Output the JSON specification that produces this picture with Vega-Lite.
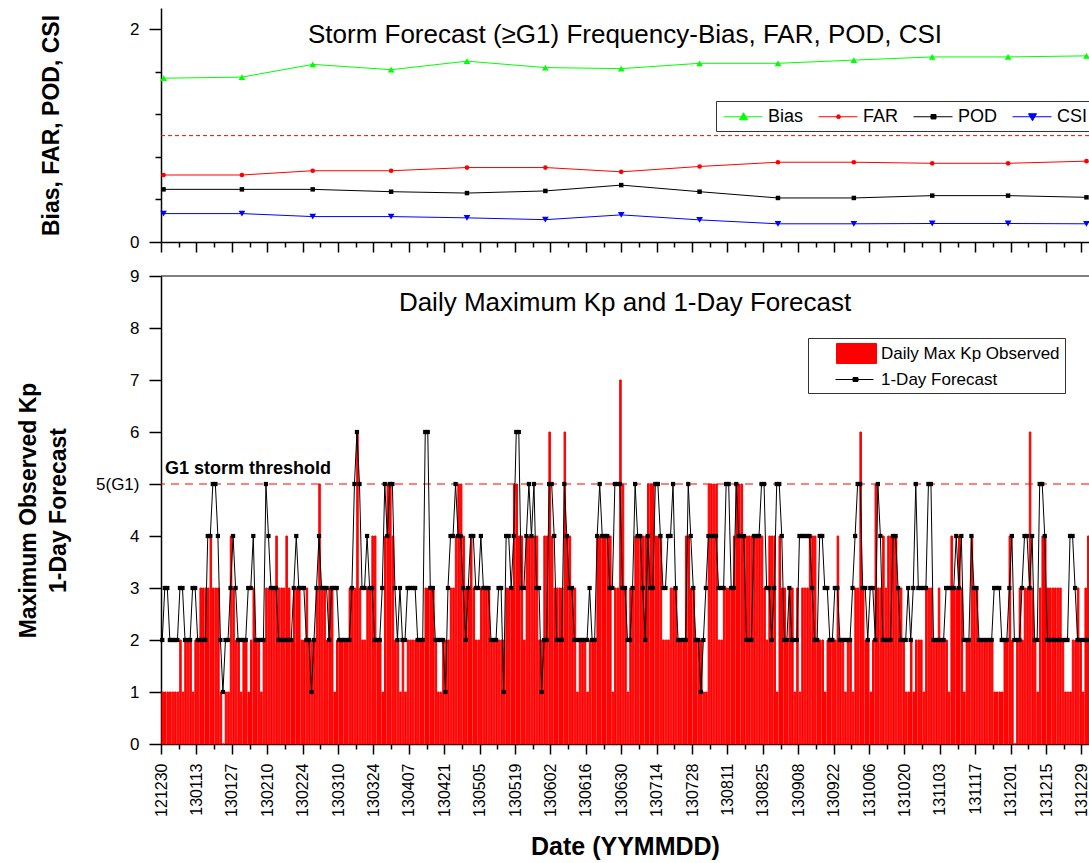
{
  "$schema": "https://vega.github.io/schema/vega-lite/v6.json",
  "background": "white",
  "padding": {"left": 17, "top": 8, "right": 0, "bottom": 0},
  "spacing": 14,
  "config": {
    "font": "Liberation Sans",
    "view": {"stroke": null},
    "axis": {"domainColor": "#000", "domainWidth": 1.5, "tickColor": "#000", "tickWidth": 1.5, "labelColor": "#000", "titleColor": "#000", "labelFont": "Liberation Sans", "titleFont": "Liberation Sans", "grid": false, "labelFontSize": 17, "titleFontWeight": "bold"},
    "legend": {"labelFont": "Liberation Sans", "labelColor": "#000", "labelFontSize": 17, "labelLimit": 400}
  },
  "resolve": {"scale": {"color": "independent", "shape": "independent", "size": "independent", "fill": "independent", "stroke": "independent"}},
  "datasets": {
    "metrics": [
      {"date": "2012-12-31", "metric": "Bias", "value": 1.54},
      {"date": "2013-01-31", "metric": "Bias", "value": 1.55},
      {"date": "2013-02-28", "metric": "Bias", "value": 1.67},
      {"date": "2013-03-31", "metric": "Bias", "value": 1.62},
      {"date": "2013-04-30", "metric": "Bias", "value": 1.70},
      {"date": "2013-05-31", "metric": "Bias", "value": 1.64},
      {"date": "2013-06-30", "metric": "Bias", "value": 1.63},
      {"date": "2013-07-31", "metric": "Bias", "value": 1.68},
      {"date": "2013-08-31", "metric": "Bias", "value": 1.68},
      {"date": "2013-09-30", "metric": "Bias", "value": 1.71},
      {"date": "2013-10-31", "metric": "Bias", "value": 1.74},
      {"date": "2013-11-30", "metric": "Bias", "value": 1.74},
      {"date": "2013-12-31", "metric": "Bias", "value": 1.75},
      {"date": "2012-12-31", "metric": "FAR", "value": 0.63},
      {"date": "2013-01-31", "metric": "FAR", "value": 0.63},
      {"date": "2013-02-28", "metric": "FAR", "value": 0.67},
      {"date": "2013-03-31", "metric": "FAR", "value": 0.67},
      {"date": "2013-04-30", "metric": "FAR", "value": 0.70},
      {"date": "2013-05-31", "metric": "FAR", "value": 0.70},
      {"date": "2013-06-30", "metric": "FAR", "value": 0.66},
      {"date": "2013-07-31", "metric": "FAR", "value": 0.71},
      {"date": "2013-08-31", "metric": "FAR", "value": 0.75},
      {"date": "2013-09-30", "metric": "FAR", "value": 0.75},
      {"date": "2013-10-31", "metric": "FAR", "value": 0.74},
      {"date": "2013-11-30", "metric": "FAR", "value": 0.74},
      {"date": "2013-12-31", "metric": "FAR", "value": 0.76},
      {"date": "2012-12-31", "metric": "POD", "value": 0.495},
      {"date": "2013-01-31", "metric": "POD", "value": 0.495},
      {"date": "2013-02-28", "metric": "POD", "value": 0.495},
      {"date": "2013-03-31", "metric": "POD", "value": 0.473},
      {"date": "2013-04-30", "metric": "POD", "value": 0.46},
      {"date": "2013-05-31", "metric": "POD", "value": 0.48},
      {"date": "2013-06-30", "metric": "POD", "value": 0.535},
      {"date": "2013-07-31", "metric": "POD", "value": 0.473},
      {"date": "2013-08-31", "metric": "POD", "value": 0.414},
      {"date": "2013-09-30", "metric": "POD", "value": 0.414},
      {"date": "2013-10-31", "metric": "POD", "value": 0.436},
      {"date": "2013-11-30", "metric": "POD", "value": 0.436},
      {"date": "2013-12-31", "metric": "POD", "value": 0.42},
      {"date": "2012-12-31", "metric": "CSI", "value": 0.267},
      {"date": "2013-01-31", "metric": "CSI", "value": 0.267},
      {"date": "2013-02-28", "metric": "CSI", "value": 0.239},
      {"date": "2013-03-31", "metric": "CSI", "value": 0.239},
      {"date": "2013-04-30", "metric": "CSI", "value": 0.227},
      {"date": "2013-05-31", "metric": "CSI", "value": 0.21},
      {"date": "2013-06-30", "metric": "CSI", "value": 0.255},
      {"date": "2013-07-31", "metric": "CSI", "value": 0.208},
      {"date": "2013-08-31", "metric": "CSI", "value": 0.171},
      {"date": "2013-09-30", "metric": "CSI", "value": 0.171},
      {"date": "2013-10-31", "metric": "CSI", "value": 0.174},
      {"date": "2013-11-30", "metric": "CSI", "value": 0.174},
      {"date": "2013-12-31", "metric": "CSI", "value": 0.171}
    ],
    "kp": [
      {"date":"2012-12-30","obs":1,"fc":2},{"date":"2012-12-31","obs":1,"fc":3},
      {"date":"2013-01-01","obs":1,"fc":3},{"date":"2013-01-02","obs":1,"fc":2},{"date":"2013-01-03","obs":1,"fc":2},{"date":"2013-01-04","obs":1,"fc":2},{"date":"2013-01-05","obs":1,"fc":2},{"date":"2013-01-06","obs":2,"fc":3},{"date":"2013-01-07","obs":1,"fc":3},{"date":"2013-01-08","obs":2,"fc":2},{"date":"2013-01-09","obs":2,"fc":2},{"date":"2013-01-10","obs":2,"fc":2},
      {"date":"2013-01-11","obs":1,"fc":3},{"date":"2013-01-12","obs":2,"fc":3},{"date":"2013-01-13","obs":2,"fc":2},{"date":"2013-01-14","obs":3,"fc":2},{"date":"2013-01-15","obs":3,"fc":2},{"date":"2013-01-16","obs":3,"fc":2},{"date":"2013-01-17","obs":3,"fc":4},{"date":"2013-01-18","obs":4,"fc":4},{"date":"2013-01-19","obs":3,"fc":5},{"date":"2013-01-20","obs":3,"fc":5},
      {"date":"2013-01-21","obs":3,"fc":4},{"date":"2013-01-22","obs":1,"fc":2},{"date":"2013-01-23","obs":0,"fc":1},{"date":"2013-01-24","obs":1,"fc":2},{"date":"2013-01-25","obs":1,"fc":2},{"date":"2013-01-26","obs":4,"fc":3},{"date":"2013-01-27","obs":3,"fc":4},{"date":"2013-01-28","obs":2,"fc":3},{"date":"2013-01-29","obs":2,"fc":2},{"date":"2013-01-30","obs":1,"fc":2},{"date":"2013-01-31","obs":2,"fc":2},
      {"date":"2013-02-01","obs":2,"fc":2},{"date":"2013-02-02","obs":1,"fc":3},{"date":"2013-02-03","obs":2,"fc":3},{"date":"2013-02-04","obs":3,"fc":4},{"date":"2013-02-05","obs":2,"fc":2},{"date":"2013-02-06","obs":2,"fc":2},{"date":"2013-02-07","obs":1,"fc":2},{"date":"2013-02-08","obs":2,"fc":2},{"date":"2013-02-09","obs":3,"fc":5},{"date":"2013-02-10","obs":3,"fc":4},
      {"date":"2013-02-11","obs":3,"fc":3},{"date":"2013-02-12","obs":3,"fc":3},{"date":"2013-02-13","obs":4,"fc":3},{"date":"2013-02-14","obs":3,"fc":2},{"date":"2013-02-15","obs":3,"fc":2},{"date":"2013-02-16","obs":3,"fc":2},{"date":"2013-02-17","obs":4,"fc":2},{"date":"2013-02-18","obs":3,"fc":2},{"date":"2013-02-19","obs":2,"fc":2},{"date":"2013-02-20","obs":3,"fc":3},
      {"date":"2013-02-21","obs":3,"fc":4},{"date":"2013-02-22","obs":3,"fc":3},{"date":"2013-02-23","obs":2,"fc":3},{"date":"2013-02-24","obs":2,"fc":3},{"date":"2013-02-25","obs":3,"fc":2},{"date":"2013-02-26","obs":2,"fc":2},{"date":"2013-02-27","obs":2,"fc":1},{"date":"2013-02-28","obs":2,"fc":2},
      {"date":"2013-03-01","obs":3,"fc":3},{"date":"2013-03-02","obs":5,"fc":4},{"date":"2013-03-03","obs":3,"fc":3},{"date":"2013-03-04","obs":3,"fc":3},{"date":"2013-03-05","obs":2,"fc":3},{"date":"2013-03-06","obs":3,"fc":2},{"date":"2013-03-07","obs":3,"fc":3},{"date":"2013-03-08","obs":1,"fc":3},{"date":"2013-03-09","obs":2,"fc":3},{"date":"2013-03-10","obs":2,"fc":2},
      {"date":"2013-03-11","obs":2,"fc":2},{"date":"2013-03-12","obs":2,"fc":2},{"date":"2013-03-13","obs":2,"fc":2},{"date":"2013-03-14","obs":3,"fc":2},{"date":"2013-03-15","obs":3,"fc":3},{"date":"2013-03-16","obs":3,"fc":5},{"date":"2013-03-17","obs":6,"fc":6},{"date":"2013-03-18","obs":3,"fc":5},{"date":"2013-03-19","obs":2,"fc":3},{"date":"2013-03-20","obs":2,"fc":3},
      {"date":"2013-03-21","obs":3,"fc":4},{"date":"2013-03-22","obs":3,"fc":3},{"date":"2013-03-23","obs":4,"fc":3},{"date":"2013-03-24","obs":4,"fc":2},{"date":"2013-03-25","obs":2,"fc":2},{"date":"2013-03-26","obs":2,"fc":2},{"date":"2013-03-27","obs":1,"fc":3},{"date":"2013-03-28","obs":4,"fc":5},{"date":"2013-03-29","obs":5,"fc":4},{"date":"2013-03-30","obs":5,"fc":5},{"date":"2013-03-31","obs":4,"fc":5},
      {"date":"2013-04-01","obs":2,"fc":3},{"date":"2013-04-02","obs":2,"fc":2},{"date":"2013-04-03","obs":1,"fc":3},{"date":"2013-04-04","obs":2,"fc":2},{"date":"2013-04-05","obs":1,"fc":2},{"date":"2013-04-06","obs":2,"fc":3},{"date":"2013-04-07","obs":2,"fc":3},{"date":"2013-04-08","obs":2,"fc":3},{"date":"2013-04-09","obs":2,"fc":3},{"date":"2013-04-10","obs":2,"fc":2},
      {"date":"2013-04-11","obs":2,"fc":2},{"date":"2013-04-12","obs":2,"fc":2},{"date":"2013-04-13","obs":3,"fc":6},{"date":"2013-04-14","obs":3,"fc":6},{"date":"2013-04-15","obs":3,"fc":3},{"date":"2013-04-16","obs":3,"fc":3},{"date":"2013-04-17","obs":2,"fc":2},{"date":"2013-04-18","obs":1,"fc":2},{"date":"2013-04-19","obs":1,"fc":2},{"date":"2013-04-20","obs":2,"fc":2},
      {"date":"2013-04-21","obs":2,"fc":1},{"date":"2013-04-22","obs":2,"fc":3},{"date":"2013-04-23","obs":3,"fc":4},{"date":"2013-04-24","obs":3,"fc":4},{"date":"2013-04-25","obs":4,"fc":5},{"date":"2013-04-26","obs":5,"fc":4},{"date":"2013-04-27","obs":5,"fc":4},{"date":"2013-04-28","obs":4,"fc":3},{"date":"2013-04-29","obs":3,"fc":2},{"date":"2013-04-30","obs":3,"fc":3},
      {"date":"2013-05-01","obs":4,"fc":4},{"date":"2013-05-02","obs":3,"fc":4},{"date":"2013-05-03","obs":2,"fc":3},{"date":"2013-05-04","obs":2,"fc":3},{"date":"2013-05-05","obs":3,"fc":4},{"date":"2013-05-06","obs":3,"fc":3},{"date":"2013-05-07","obs":3,"fc":3},{"date":"2013-05-08","obs":3,"fc":3},{"date":"2013-05-09","obs":2,"fc":2},{"date":"2013-05-10","obs":2,"fc":2},
      {"date":"2013-05-11","obs":2,"fc":2},{"date":"2013-05-12","obs":2,"fc":3},{"date":"2013-05-13","obs":2,"fc":3},{"date":"2013-05-14","obs":2,"fc":1},{"date":"2013-05-15","obs":3,"fc":4},{"date":"2013-05-16","obs":3,"fc":4},{"date":"2013-05-17","obs":3,"fc":3},{"date":"2013-05-18","obs":5,"fc":4},{"date":"2013-05-19","obs":5,"fc":6},{"date":"2013-05-20","obs":4,"fc":6},
      {"date":"2013-05-21","obs":4,"fc":3},{"date":"2013-05-22","obs":2,"fc":3},{"date":"2013-05-23","obs":4,"fc":4},{"date":"2013-05-24","obs":4,"fc":5},{"date":"2013-05-25","obs":4,"fc":4},{"date":"2013-05-26","obs":4,"fc":5},{"date":"2013-05-27","obs":4,"fc":3},{"date":"2013-05-28","obs":2,"fc":3},{"date":"2013-05-29","obs":2,"fc":1},{"date":"2013-05-30","obs":4,"fc":2},{"date":"2013-05-31","obs":4,"fc":2},
      {"date":"2013-06-01","obs":6,"fc":5},{"date":"2013-06-02","obs":4,"fc":5},{"date":"2013-06-03","obs":3,"fc":4},{"date":"2013-06-04","obs":3,"fc":2},{"date":"2013-06-05","obs":3,"fc":2},{"date":"2013-06-06","obs":3,"fc":2},{"date":"2013-06-07","obs":6,"fc":5},{"date":"2013-06-08","obs":4,"fc":4},{"date":"2013-06-09","obs":4,"fc":3},{"date":"2013-06-10","obs":3,"fc":3},
      {"date":"2013-06-11","obs":3,"fc":2},{"date":"2013-06-12","obs":1,"fc":2},{"date":"2013-06-13","obs":2,"fc":2},{"date":"2013-06-14","obs":2,"fc":2},{"date":"2013-06-15","obs":2,"fc":2},{"date":"2013-06-16","obs":1,"fc":2},{"date":"2013-06-17","obs":2,"fc":3},{"date":"2013-06-18","obs":2,"fc":2},{"date":"2013-06-19","obs":2,"fc":2},{"date":"2013-06-20","obs":4,"fc":4},
      {"date":"2013-06-21","obs":4,"fc":5},{"date":"2013-06-22","obs":4,"fc":4},{"date":"2013-06-23","obs":4,"fc":4},{"date":"2013-06-24","obs":4,"fc":4},{"date":"2013-06-25","obs":4,"fc":3},{"date":"2013-06-26","obs":1,"fc":3},{"date":"2013-06-27","obs":3,"fc":5},{"date":"2013-06-28","obs":3,"fc":5},{"date":"2013-06-29","obs":7,"fc":5},{"date":"2013-06-30","obs":5,"fc":3},
      {"date":"2013-07-01","obs":3,"fc":3},{"date":"2013-07-02","obs":1,"fc":2},{"date":"2013-07-03","obs":3,"fc":2},{"date":"2013-07-04","obs":3,"fc":3},{"date":"2013-07-05","obs":4,"fc":5},{"date":"2013-07-06","obs":4,"fc":4},{"date":"2013-07-07","obs":4,"fc":4},{"date":"2013-07-08","obs":4,"fc":3},{"date":"2013-07-09","obs":4,"fc":2},{"date":"2013-07-10","obs":5,"fc":4},
      {"date":"2013-07-11","obs":5,"fc":3},{"date":"2013-07-12","obs":5,"fc":3},{"date":"2013-07-13","obs":4,"fc":5},{"date":"2013-07-14","obs":4,"fc":5},{"date":"2013-07-15","obs":4,"fc":4},{"date":"2013-07-16","obs":2,"fc":3},{"date":"2013-07-17","obs":2,"fc":3},{"date":"2013-07-18","obs":2,"fc":4},{"date":"2013-07-19","obs":3,"fc":4},{"date":"2013-07-20","obs":3,"fc":5},
      {"date":"2013-07-21","obs":3,"fc":3},{"date":"2013-07-22","obs":2,"fc":2},{"date":"2013-07-23","obs":2,"fc":2},{"date":"2013-07-24","obs":2,"fc":2},{"date":"2013-07-25","obs":4,"fc":2},{"date":"2013-07-26","obs":4,"fc":5},{"date":"2013-07-27","obs":3,"fc":4},{"date":"2013-07-28","obs":3,"fc":3},{"date":"2013-07-29","obs":2,"fc":2},{"date":"2013-07-30","obs":2,"fc":2},{"date":"2013-07-31","obs":2,"fc":1},
      {"date":"2013-08-01","obs":1,"fc":2},{"date":"2013-08-02","obs":1,"fc":3},{"date":"2013-08-03","obs":5,"fc":4},{"date":"2013-08-04","obs":5,"fc":4},{"date":"2013-08-05","obs":5,"fc":4},{"date":"2013-08-06","obs":5,"fc":4},{"date":"2013-08-07","obs":2,"fc":3},{"date":"2013-08-08","obs":2,"fc":3},{"date":"2013-08-09","obs":3,"fc":3},{"date":"2013-08-10","obs":3,"fc":5},
      {"date":"2013-08-11","obs":3,"fc":5},{"date":"2013-08-12","obs":3,"fc":3},{"date":"2013-08-13","obs":4,"fc":3},{"date":"2013-08-14","obs":5,"fc":5},{"date":"2013-08-15","obs":5,"fc":4},{"date":"2013-08-16","obs":5,"fc":4},{"date":"2013-08-17","obs":4,"fc":4},{"date":"2013-08-18","obs":4,"fc":2},{"date":"2013-08-19","obs":4,"fc":2},{"date":"2013-08-20","obs":4,"fc":2},
      {"date":"2013-08-21","obs":4,"fc":4},{"date":"2013-08-22","obs":4,"fc":4},{"date":"2013-08-23","obs":4,"fc":4},{"date":"2013-08-24","obs":4,"fc":5},{"date":"2013-08-25","obs":3,"fc":5},{"date":"2013-08-26","obs":2,"fc":3},{"date":"2013-08-27","obs":4,"fc":3},{"date":"2013-08-28","obs":4,"fc":2},{"date":"2013-08-29","obs":4,"fc":3},{"date":"2013-08-30","obs":1,"fc":5},{"date":"2013-08-31","obs":4,"fc":5},
      {"date":"2013-09-01","obs":3,"fc":4},{"date":"2013-09-02","obs":3,"fc":2},{"date":"2013-09-03","obs":2,"fc":2},{"date":"2013-09-04","obs":3,"fc":3},{"date":"2013-09-05","obs":3,"fc":2},{"date":"2013-09-06","obs":1,"fc":2},{"date":"2013-09-07","obs":3,"fc":2},{"date":"2013-09-08","obs":1,"fc":4},{"date":"2013-09-09","obs":3,"fc":4},{"date":"2013-09-10","obs":3,"fc":4},
      {"date":"2013-09-11","obs":3,"fc":4},{"date":"2013-09-12","obs":4,"fc":4},{"date":"2013-09-13","obs":4,"fc":3},{"date":"2013-09-14","obs":4,"fc":2},{"date":"2013-09-15","obs":2,"fc":2},{"date":"2013-09-16","obs":2,"fc":4},{"date":"2013-09-17","obs":2,"fc":4},{"date":"2013-09-18","obs":1,"fc":3},{"date":"2013-09-19","obs":2,"fc":3},{"date":"2013-09-20","obs":2,"fc":2},
      {"date":"2013-09-21","obs":2,"fc":2},{"date":"2013-09-22","obs":2,"fc":3},{"date":"2013-09-23","obs":4,"fc":3},{"date":"2013-09-24","obs":2,"fc":2},{"date":"2013-09-25","obs":2,"fc":2},{"date":"2013-09-26","obs":1,"fc":2},{"date":"2013-09-27","obs":2,"fc":2},{"date":"2013-09-28","obs":2,"fc":2},{"date":"2013-09-29","obs":1,"fc":3},{"date":"2013-09-30","obs":3,"fc":4},
      {"date":"2013-10-01","obs":3,"fc":5},{"date":"2013-10-02","obs":6,"fc":5},{"date":"2013-10-03","obs":3,"fc":3},{"date":"2013-10-04","obs":2,"fc":3},{"date":"2013-10-05","obs":2,"fc":2},{"date":"2013-10-06","obs":1,"fc":3},{"date":"2013-10-07","obs":2,"fc":3},{"date":"2013-10-08","obs":5,"fc":2},{"date":"2013-10-09","obs":3,"fc":5},{"date":"2013-10-10","obs":3,"fc":4},
      {"date":"2013-10-11","obs":4,"fc":2},{"date":"2013-10-12","obs":3,"fc":2},{"date":"2013-10-13","obs":4,"fc":2},{"date":"2013-10-14","obs":4,"fc":2},{"date":"2013-10-15","obs":4,"fc":4},{"date":"2013-10-16","obs":4,"fc":4},{"date":"2013-10-17","obs":3,"fc":3},{"date":"2013-10-18","obs":3,"fc":2},{"date":"2013-10-19","obs":2,"fc":2},{"date":"2013-10-20","obs":1,"fc":2},
      {"date":"2013-10-21","obs":1,"fc":3},{"date":"2013-10-22","obs":2,"fc":2},{"date":"2013-10-23","obs":1,"fc":3},{"date":"2013-10-24","obs":2,"fc":5},{"date":"2013-10-25","obs":2,"fc":3},{"date":"2013-10-26","obs":2,"fc":3},{"date":"2013-10-27","obs":1,"fc":3},{"date":"2013-10-28","obs":3,"fc":3},{"date":"2013-10-29","obs":3,"fc":5},{"date":"2013-10-30","obs":3,"fc":5},{"date":"2013-10-31","obs":2,"fc":2},
      {"date":"2013-11-01","obs":2,"fc":2},{"date":"2013-11-02","obs":3,"fc":2},{"date":"2013-11-03","obs":2,"fc":2},{"date":"2013-11-04","obs":2,"fc":2},{"date":"2013-11-05","obs":2,"fc":3},{"date":"2013-11-06","obs":1,"fc":3},{"date":"2013-11-07","obs":4,"fc":3},{"date":"2013-11-08","obs":3,"fc":3},{"date":"2013-11-09","obs":3,"fc":4},{"date":"2013-11-10","obs":4,"fc":3},
      {"date":"2013-11-11","obs":3,"fc":4},{"date":"2013-11-12","obs":1,"fc":2},{"date":"2013-11-13","obs":2,"fc":2},{"date":"2013-11-14","obs":2,"fc":2},{"date":"2013-11-15","obs":4,"fc":4},{"date":"2013-11-16","obs":3,"fc":3},{"date":"2013-11-17","obs":3,"fc":3},{"date":"2013-11-18","obs":2,"fc":2},{"date":"2013-11-19","obs":2,"fc":2},{"date":"2013-11-20","obs":2,"fc":2},
      {"date":"2013-11-21","obs":2,"fc":2},{"date":"2013-11-22","obs":2,"fc":2},{"date":"2013-11-23","obs":2,"fc":2},{"date":"2013-11-24","obs":1,"fc":3},{"date":"2013-11-25","obs":1,"fc":3},{"date":"2013-11-26","obs":1,"fc":3},{"date":"2013-11-27","obs":1,"fc":2},{"date":"2013-11-28","obs":2,"fc":2},{"date":"2013-11-29","obs":2,"fc":2},{"date":"2013-11-30","obs":4,"fc":3},
      {"date":"2013-12-01","obs":2,"fc":4},{"date":"2013-12-02","obs":0,"fc":2},{"date":"2013-12-03","obs":2,"fc":2},{"date":"2013-12-04","obs":3,"fc":2},{"date":"2013-12-05","obs":2,"fc":3},{"date":"2013-12-06","obs":3,"fc":4},{"date":"2013-12-07","obs":3,"fc":4},{"date":"2013-12-08","obs":6,"fc":3},{"date":"2013-12-09","obs":3,"fc":4},{"date":"2013-12-10","obs":2,"fc":2},
      {"date":"2013-12-11","obs":1,"fc":2},{"date":"2013-12-12","obs":3,"fc":5},{"date":"2013-12-13","obs":4,"fc":5},{"date":"2013-12-14","obs":4,"fc":4},{"date":"2013-12-15","obs":3,"fc":2},{"date":"2013-12-16","obs":3,"fc":2},{"date":"2013-12-17","obs":3,"fc":2},{"date":"2013-12-18","obs":3,"fc":2},{"date":"2013-12-19","obs":3,"fc":2},{"date":"2013-12-20","obs":3,"fc":2},
      {"date":"2013-12-21","obs":2,"fc":2},{"date":"2013-12-22","obs":1,"fc":2},{"date":"2013-12-23","obs":1,"fc":2},{"date":"2013-12-24","obs":1,"fc":4},{"date":"2013-12-25","obs":2,"fc":4},{"date":"2013-12-26","obs":2,"fc":3},{"date":"2013-12-27","obs":3,"fc":2},{"date":"2013-12-28","obs":2,"fc":2},{"date":"2013-12-29","obs":1,"fc":2},{"date":"2013-12-30","obs":3,"fc":2},{"date":"2013-12-31","obs":4,"fc":2}
    ]
  },
  "vconcat": [
    {
      "width": 928,
      "height": 234,
      "data": {"name": "metrics"},
      "layer": [
        {
          "data": {"values": [{"value": 1}]},
          "mark": {"type": "rule", "color": "#FF0000", "strokeDash": [4, 3], "strokeWidth": 1},
          "encoding": {"y": {"field": "value", "type": "quantitative"}}
        },
        {
          "mark": {"type": "line", "strokeWidth": 1},
          "encoding": {
            "x": {"field": "date", "type": "temporal",
              "scale": {"type": "utc", "domain": [{"year": 2012, "month": 12, "date": 30, "utc": true}, {"year": 2014, "month": 1, "date": 1, "utc": true}]},
              "axis": {"title": null, "labels": false, "tickCount": {"interval": "week", "step": 1},
                "tickSize": {"condition": {"test": "round(datum.value/864e5 - 15704) % 14 == 0", "value": 10}, "value": 5}}},
            "y": {"field": "value", "type": "quantitative",
              "scale": {"domain": [0, 2.2], "nice": false, "zero": true},
              "axis": {"title": "Bias, FAR, POD, CSI", "titleFontSize": 23, "titlePadding": 66,
                "values": [0,0.1,0.2,0.3,0.4,0.5,0.6,0.7,0.8,0.9,1,1.1,1.2,1.3,1.4,1.5,1.6,1.7,1.8,1.9,2,2.1,2.2],
                "labelExpr": "datum.value % 1 == 0 ? format(datum.value, 'd') : ''",
                "tickSize": {"condition": {"test": "datum.value % 1 == 0", "value": 12}, "value": 6},
                "labelPadding": 10}},
            "stroke": {"field": "metric", "type": "nominal"}
          }
        },
        {
          "transform": [{"filter": "datum.metric == 'Bias'"}],
          "mark": {"type": "point", "filled": true, "opacity": 1, "shape": "triangle-up", "color": "#00FF00", "size": 45},
          "encoding": {"x": {"field": "date", "type": "temporal"}, "y": {"field": "value", "type": "quantitative"}}
        },
        {
          "transform": [{"filter": "datum.metric == 'FAR'"}],
          "mark": {"type": "point", "filled": true, "opacity": 1, "shape": "circle", "color": "#FF0000", "size": 22},
          "encoding": {"x": {"field": "date", "type": "temporal"}, "y": {"field": "value", "type": "quantitative"}}
        },
        {
          "transform": [{"filter": "datum.metric == 'POD'"}],
          "mark": {"type": "point", "filled": true, "opacity": 1, "shape": "square", "color": "#000000", "size": 20},
          "encoding": {"x": {"field": "date", "type": "temporal"}, "y": {"field": "value", "type": "quantitative"}}
        },
        {
          "transform": [{"filter": "datum.metric == 'CSI'"}],
          "mark": {"type": "point", "filled": true, "opacity": 1, "shape": "triangle-down", "color": "#0000FF", "size": 45},
          "encoding": {"x": {"field": "date", "type": "temporal"}, "y": {"field": "value", "type": "quantitative"}}
        },
        {
          "mark": {"type": "point", "filled": true, "opacity": 0},
          "encoding": {
            "x": {"field": "date", "type": "temporal"},
            "y": {"field": "value", "type": "quantitative"},
            "fill": {"field": "metric", "type": "nominal",
              "scale": {"domain": ["Bias", "FAR", "POD", "CSI"], "range": ["#00FF00", "#FF0000", "#000000", "#0000FF"]},
              "legend": {"title": null, "orient": "none", "legendX": 555, "legendY": 93, "direction": "horizontal", "columns": 4, "columnPadding": 12, "padding": 5, "strokeColor": "#333", "symbolSize": 400, "symbolOpacity": 1, "symbolStrokeWidth": 1, "labelOffset": 26, "labelFontSize": 18}},
            "stroke": {"field": "metric", "type": "nominal",
              "scale": {"domain": ["Bias", "FAR", "POD", "CSI"], "range": ["#00FF00", "#FF0000", "#000000", "#0000FF"]},
              "legend": {"title": null, "orient": "none", "legendX": 555, "legendY": 93, "direction": "horizontal", "columns": 4, "columnPadding": 12, "padding": 5, "strokeColor": "#333", "symbolSize": 400, "symbolOpacity": 1, "symbolStrokeWidth": 1, "labelOffset": 26, "labelFontSize": 18}},
            "shape": {"field": "metric", "type": "nominal",
              "scale": {"domain": ["Bias", "FAR", "POD", "CSI"], "range": [
                "M-0.8,0H3.1M1.2,-0.4L1.6,0.3H0.8Z",
                "M-0.8,0H3.1M1.4,0A0.2,0.2,0,1,1,1.0,0A0.2,0.2,0,1,1,1.4,0Z",
                "M-0.8,0H3.1M0.95,-0.22H1.45V0.22H0.95Z",
                "M-0.8,0H3.1M1.2,0.4L1.6,-0.3H0.8Z"]},
              "legend": {"title": null, "orient": "none", "legendX": 555, "legendY": 93, "direction": "horizontal", "columns": 4, "columnPadding": 12, "padding": 5, "strokeColor": "#333", "symbolSize": 400, "symbolOpacity": 1, "symbolStrokeWidth": 1, "labelOffset": 26, "labelFontSize": 18}}
          }
        },
        {
          "data": {"values": [{"date": "2013-07-01T12:00:00Z", "value": 1.87, "label": "Storm Forecast (≥G1) Frequency-Bias, FAR, POD, CSI"}]},
          "mark": {"type": "text", "align": "center", "baseline": "alphabetic", "fontSize": 26, "font": "Liberation Sans", "color": "#000"},
          "encoding": {"x": {"field": "date", "type": "temporal"}, "y": {"field": "value", "type": "quantitative"}, "text": {"field": "label"}}
        }
      ]
    },
    {
      "width": 928,
      "height": 468,
      "data": {"name": "kp"},
      "layer": [
        {
          "mark": {"type": "bar", "color": "#FF0000", "stroke": "#FF0000", "strokeWidth": 1},
          "encoding": {
            "x": {"field": "date", "type": "temporal", "timeUnit": "utcyearmonthdate",
              "scale": {"type": "utc", "domain": [{"year": 2012, "month": 12, "date": 30, "utc": true}, {"year": 2014, "month": 1, "date": 1, "utc": true}]},
              "axis": {"title": "Date (YYMMDD)", "titleFontSize": 25, "titlePadding": 18, "labelAngle": -90, "labelFontSize": 16, "labelPadding": 9,
                "tickCount": {"interval": "week", "step": 1},
                "labelExpr": "round(datum.value/864e5 - 15704) % 14 == 0 ? utcFormat(datum.value, '%y%m%d') : ''",
                "tickSize": {"condition": {"test": "round(datum.value/864e5 - 15704) % 14 == 0", "value": 10}, "value": 5},
                "labelOverlap": false, "labelFlush": false, "labelBound": false}},
            "y": {"field": "obs", "type": "quantitative",
              "scale": {"domain": [0, 9], "nice": false},
              "axis": {"title": ["Maximum Observed Kp", "1-Day Forecast"], "titleFontSize": 23, "titleLineHeight": 30, "titlePadding": 25,
                "values": [0,1,2,3,4,5,6,7,8,9],
                "labelExpr": "datum.value == 5 ? '5(G1)' : datum.label",
                "tickSize": 12, "labelPadding": 10}}
          }
        },
        {
          "data": {"values": [{"obs": 5}, {"obs": 9}]},
          "mark": {"type": "rule", "color": "#FF0000", "strokeDash": [8, 6], "strokeWidth": 1},
          "encoding": {"y": {"field": "obs", "type": "quantitative"},
            "strokeDash": {"condition": {"test": "datum.obs == 9", "value": [1, 0]}, "value": [8, 6]},
            "stroke": {"condition": {"test": "datum.obs == 9", "value": "#000000"}, "value": "#FF0000"},
            "strokeWidth": {"condition": {"test": "datum.obs == 9", "value": 1.5}, "value": 1}}
        },
        {
          "mark": {"type": "line", "color": "#000000", "strokeWidth": 1, "point": {"filled": true, "shape": "square", "size": 18, "color": "#000000"}},
          "encoding": {
            "x": {"field": "date", "type": "temporal", "timeUnit": "utcyearmonthdate", "bandPosition": 0.5},
            "y": {"field": "fc", "type": "quantitative"}
          }
        },
        {
          "transform": [{"fold": ["obs", "fc"], "as": ["series", "kpv"]}],
          "mark": {"type": "point", "filled": true, "opacity": 0},
          "encoding": {
            "x": {"field": "date", "type": "temporal"},
            "y": {"field": "kpv", "type": "quantitative"},
            "fill": {"field": "series", "type": "nominal",
              "scale": {"domain": ["obs", "fc"], "range": ["#FF0000", "#000000"]},
              "legend": {"title": null, "orient": "none", "legendX": 647, "legendY": 62, "direction": "vertical", "rowPadding": 3, "padding": 5, "strokeColor": "#333", "symbolSize": 400, "symbolOpacity": 1, "symbolStrokeWidth": 1, "labelOffset": 47, "labelFontSize": 17, "labelExpr": "datum.value == 'obs' ? 'Daily Max Kp Observed' : '1-Day Forecast'"}},
            "stroke": {"field": "series", "type": "nominal",
              "scale": {"domain": ["obs", "fc"], "range": ["#FF0000", "#000000"]},
              "legend": {"title": null, "orient": "none", "legendX": 647, "legendY": 62, "direction": "vertical", "rowPadding": 3, "padding": 5, "strokeColor": "#333", "symbolSize": 400, "symbolOpacity": 1, "symbolStrokeWidth": 1, "labelOffset": 47, "labelFontSize": 17, "labelExpr": "datum.value == 'obs' ? 'Daily Max Kp Observed' : '1-Day Forecast'"}},
            "shape": {"field": "series", "type": "nominal",
              "scale": {"domain": ["obs", "fc"], "range": ["M1.3,-1H5.3V1H1.3Z", "M1.2,0H5M2.95,-0.2H3.45V0.2H2.95Z"]},
              "legend": {"title": null, "orient": "none", "legendX": 647, "legendY": 62, "direction": "vertical", "rowPadding": 3, "padding": 5, "strokeColor": "#333", "symbolSize": 400, "symbolOpacity": 1, "symbolStrokeWidth": 1, "labelOffset": 47, "labelFontSize": 17, "labelExpr": "datum.value == 'obs' ? 'Daily Max Kp Observed' : '1-Day Forecast'"}}
          }
        },
        {
          "data": {"values": [{"date": "2012-12-31T14:00:00Z", "obs": 5, "label": "G1 storm threshold"}]},
          "mark": {"type": "text", "align": "left", "baseline": "alphabetic", "dy": -10, "fontSize": 18, "fontWeight": "bold", "font": "Liberation Sans", "color": "#000"},
          "encoding": {"x": {"field": "date", "type": "temporal"}, "y": {"field": "obs", "type": "quantitative"}, "text": {"field": "label"}}
        },
        {
          "data": {"values": [{"date": "2013-07-01T12:00:00Z", "obs": 8.33, "label": "Daily Maximum Kp and 1-Day Forecast"}]},
          "mark": {"type": "text", "align": "center", "baseline": "alphabetic", "fontSize": 26, "font": "Liberation Sans", "color": "#000"},
          "encoding": {"x": {"field": "date", "type": "temporal"}, "y": {"field": "obs", "type": "quantitative"}, "text": {"field": "label"}}
        }
      ]
    }
  ]
}
